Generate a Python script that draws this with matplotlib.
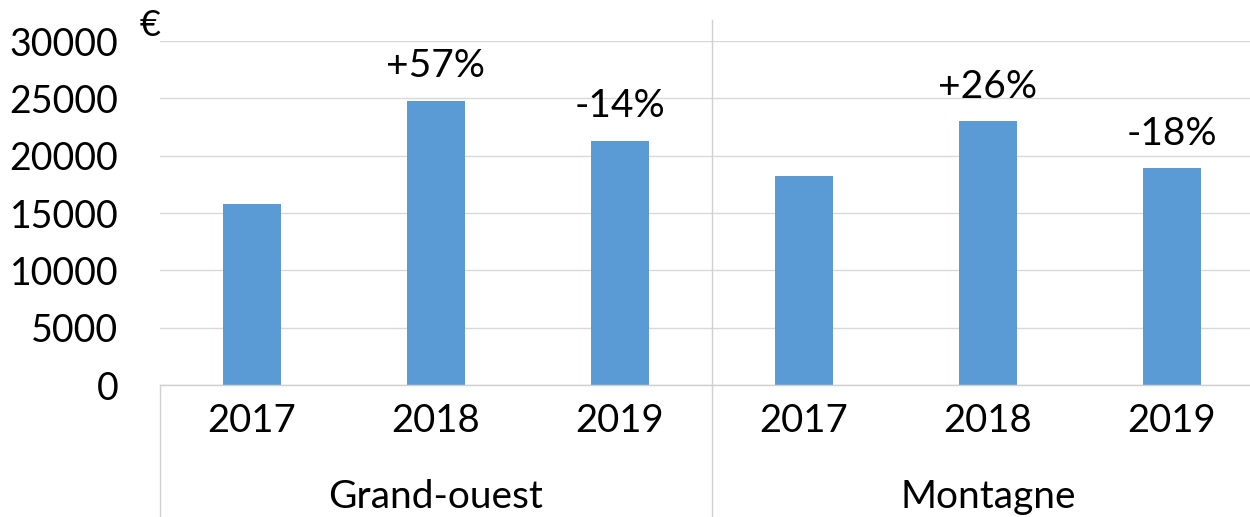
import matplotlib
matplotlib.use("Agg")
import matplotlib.pyplot as plt
from matplotlib.lines import Line2D
import matplotlib.transforms as mtransforms

years = ["2017", "2018", "2019", "2017", "2018", "2019"]
groups = ["Grand-ouest", "Montagne"]
values = [15800, 24800, 21300, 18200, 23000, 18900]
changes = ["", "+57%", "-14%", "", "+26%", "-18%"]
yticks = [0, 5000, 10000, 15000, 20000, 25000, 30000]

plt.rcParams['font.family'] = ['Lato', 'DejaVu Sans']

W, H = 1250, 517
fig = plt.figure(figsize=(W / 100, H / 100), dpi=100)

left, right_px, zero_px, top_px = 160, 1264, 385, 41
ax = fig.add_axes([left / W, (H - zero_px) / H, (right_px - left) / W, (zero_px - top_px) / H])

x = list(range(len(values)))
ax.bar(x, values, width=0.31, color="#5B9BD5", zorder=3)
ax.set_xlim(-0.5, len(values) - 0.5)
ax.set_ylim(0, 30000)
ax.set_yticks(yticks)
ax.set_yticklabels([str(v) for v in yticks], fontsize=27)
ax.tick_params(axis='y', length=0, pad=30)
ax.set_xticks(x)
ax.set_xticklabels(years, fontsize=27.5)
ax.tick_params(axis='x', length=0, pad=13)
ax.grid(axis='y', color="#d9d9d9", linewidth=1.0, zorder=0)
for s in ['left', 'right', 'top']:
    ax.spines[s].set_visible(False)
ax.spines['bottom'].set_color("#d0d0d0")
ax.spines['bottom'].set_linewidth(1.0)
ax.spines['bottom'].set_zorder(4)

for xi, v, c in zip(x, values, changes):
    if c:
        ax.annotate(c, (xi, v), xytext=(0, 25), textcoords='offset points',
                    ha='center', va='center', fontsize=28)

# group labels
for gi, g in enumerate(groups):
    ax.annotate(g, (gi * 3 + 1, 0), xytext=(0, -(497 - zero_px) * 0.72),
                textcoords='offset points', ha='center', va='center', fontsize=28,
                annotation_clip=False)

# separator and left category-axis line
tr = mtransforms.blended_transform_factory(ax.transData, fig.transFigure)
fig.add_artist(Line2D([2.5, 2.5], [0, (H - 20) / H], transform=tr, color="#d0d0d0", linewidth=1.0))
fig.add_artist(Line2D([-0.5, -0.5], [0, (H - zero_px) / H], transform=tr, color="#d0d0d0", linewidth=1.0))

fig.text(150 / W, (H - 25) / H, "€", fontsize=26, ha='center', va='center')

fig.savefig("out.png", dpi=100)
